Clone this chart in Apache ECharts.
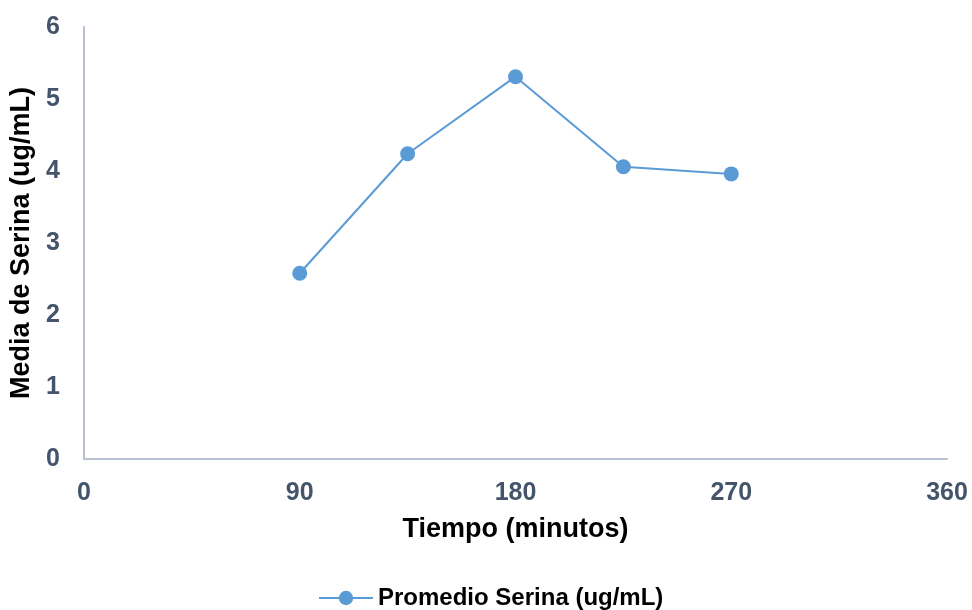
<!DOCTYPE html>
<html><head><meta charset="utf-8">
<script src="https://cdn.jsdelivr.net/npm/echarts@6/dist/echarts.min.js"></script>
<style>html,body{margin:0;padding:0;background:#fff}#c{width:972px;height:610px}</style>
</head><body><div id="c"></div>
<script>
const times = [90, 135, 180, 225, 270];
const serina = [2.58, 4.24, 5.31, 4.06, 3.96];
const seriesName = 'Promedio Serina (ug/mL)';
const xTitle = 'Tiempo (minutos)';
const yTitle = 'Media de Serina (ug/mL)';

const chart = echarts.init(document.getElementById('c'));
const fam = 'Liberation Sans, Arial, sans-serif';
chart.setOption({
  animation: false,
  grid: {left: 84, right: 25, top: 27, bottom: 151, containLabel: false, outerBoundsMode: 'none'},
  legend: {
    top: 586, left: 318,
    data: [seriesName],
    itemWidth: 54, itemHeight: 18, itemGap: 5,
    padding: 0,
    textStyle: {fontFamily: fam, fontWeight: 'bold', fontSize: 24, color: '#000'}
  },
  xAxis: {
    type: 'value', min: 0, max: 360, interval: 90,
    name: xTitle, nameLocation: 'middle', nameGap: 57,
    nameTextStyle: {fontFamily: fam, fontWeight: 'bold', fontSize: 27, color: '#000'},
    axisLine: {lineStyle: {color: '#b7c1d1', width: 2}},
    axisTick: {show: false},
    splitLine: {show: false},
    axisLabel: {margin: 22, fontFamily: fam, fontWeight: 'bold', fontSize: 25, color: '#44546a'}
  },
  yAxis: {
    type: 'value', min: 0, max: 6, interval: 1,
    name: yTitle, nameLocation: 'middle', nameGap: 43, nameRotate: 90,
    nameTextStyle: {fontFamily: fam, fontWeight: 'bold', fontSize: 27, color: '#000'},
    axisLine: {show: true, lineStyle: {color: '#b7c1d1', width: 2}},
    axisTick: {show: false},
    splitLine: {show: false},
    axisLabel: {margin: 24, fontFamily: fam, fontWeight: 'bold', fontSize: 25, color: '#44546a'}
  },
  series: [{
    name: seriesName, type: 'line',
    data: times.map((t, i) => [t, serina[i]]),
    symbol: 'circle', symbolSize: 15,
    lineStyle: {color: '#5b9bd5', width: 2},
    itemStyle: {color: '#5b9bd5'}
  }]
});
</script></body></html>
